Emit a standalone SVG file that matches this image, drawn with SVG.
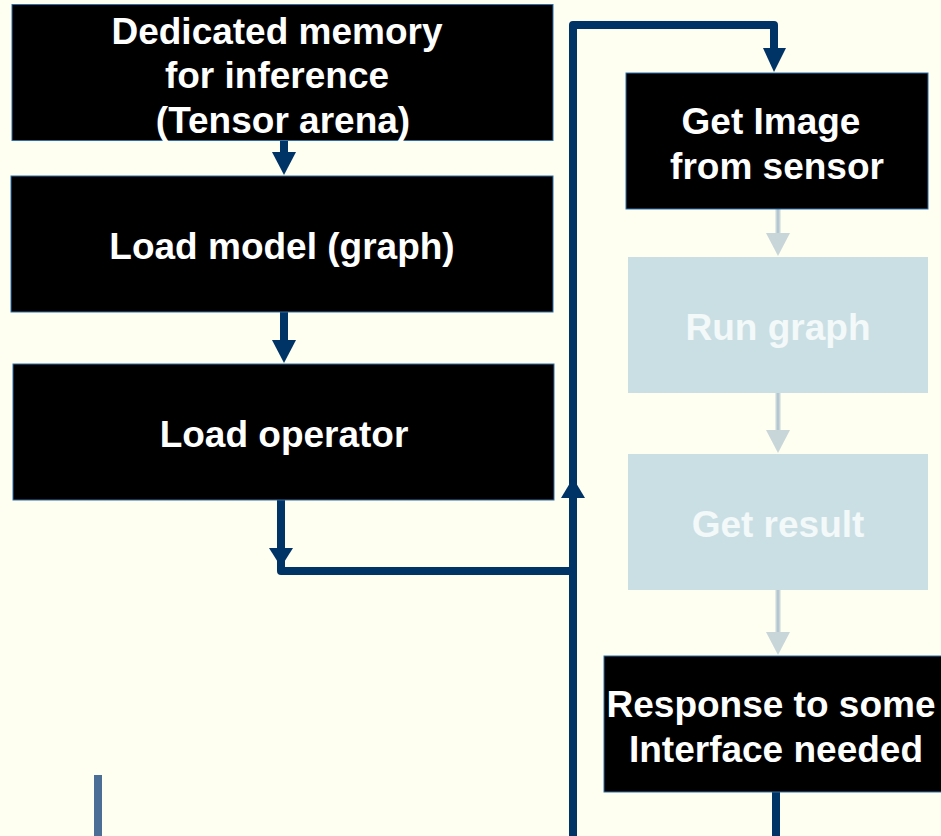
<svg xmlns="http://www.w3.org/2000/svg" width="941" height="836" viewBox="0 0 941 836">
  <defs>
    <style>
      .box { fill: #000000; stroke: #2f6fa8; stroke-width: 1; }
      .dim { fill: #cadfe4; }
      .lbl { font-family: "Liberation Sans", Arial, sans-serif; font-weight: bold; font-size: 37px; fill: #ffffff; text-anchor: middle; }
      .lbl-dim { fill: #f3f8f9; }
      .wire { fill: none; stroke: #003366; stroke-width: 8; stroke-linejoin: round; }
      .wire-dim { fill: none; stroke: #c8d6da; stroke-width: 5; }
      .wire-dim-core { fill: none; stroke: #9fb8cc; stroke-width: 1; }
      .head { fill: #003366; }
      .head-dim { fill: #c8d6da; }
    </style>
  </defs>
  <rect x="0" y="0" width="941" height="836" fill="#fefff0"/>

  <!-- connectors -->
  <g id="connectors">
    <!-- tensor arena -> load model -->
    <line class="wire" x1="284" y1="140" x2="284" y2="156"/>
    <polygon class="head" points="272,152 296,152 284,175"/>
    <!-- load model -> load operator -->
    <line class="wire" x1="284" y1="312" x2="284" y2="344"/>
    <polygon class="head" points="272,340 296,340 284,363"/>
    <!-- load operator -> main loop -->
    <polyline class="wire" points="281,500 281,571 573,571"/>
    <polygon class="head" points="269,548 293,548 281,567"/>
    <!-- loop trunk up and over to get image -->
    <polyline class="wire" points="573,836 573,25 774,25 774,52"/>
    <polygon class="head" points="561,498 585,498 573,478"/>
    <polygon class="head" points="763,48 786,48 774,72"/>
    <!-- pipeline steps (inactive) -->
    <line class="wire-dim" x1="778" y1="209" x2="778" y2="236"/>
    <line class="wire-dim-core" x1="778" y1="209" x2="778" y2="236"/>
    <polygon class="head-dim" points="766,233 790,233 778,256"/>
    <line class="wire-dim" x1="778" y1="393" x2="778" y2="432"/>
    <line class="wire-dim-core" x1="778" y1="393" x2="778" y2="432"/>
    <polygon class="head-dim" points="766,430 790,430 778,453"/>
    <line class="wire-dim" x1="778" y1="590" x2="778" y2="634"/>
    <line class="wire-dim-core" x1="778" y1="590" x2="778" y2="634"/>
    <polygon class="head-dim" points="766,632 790,632 778,655"/>
    <!-- response onward -->
    <line class="wire" x1="776" y1="792" x2="776" y2="836"/>
    <!-- side marker -->
    <rect x="94" y="775" width="8" height="61" fill="#4a6e96"/>
  </g>

  <g id="tensor-arena">
    <rect class="box" x="12" y="4.5" width="541" height="136"/>
    <text class="lbl" x="277" y="44">Dedicated memory</text>
    <text class="lbl" x="277" y="88">for inference</text>
    <text class="lbl" x="283" y="133">(Tensor arena)</text>
  </g>

  <g id="load-model">
    <rect class="box" x="11" y="176" width="542" height="136"/>
    <text class="lbl" x="282" y="259">Load model (graph)</text>
  </g>

  <g id="load-operator">
    <rect class="box" x="13" y="364" width="541" height="136"/>
    <text class="lbl" x="284" y="447">Load operator</text>
  </g>

  <g id="get-image">
    <rect class="box" x="626" y="73" width="302" height="136"/>
    <text class="lbl" x="771" y="134">Get Image</text>
    <text class="lbl" x="777" y="179">from sensor</text>
  </g>

  <g id="run-graph">
    <rect class="dim" x="628" y="257" width="300" height="136"/>
    <text class="lbl lbl-dim" x="778" y="340">Run graph</text>
  </g>

  <g id="get-result">
    <rect class="dim" x="628" y="454" width="300" height="136"/>
    <text class="lbl lbl-dim" x="778" y="537">Get result</text>
  </g>

  <g id="response">
    <rect class="box" x="604" y="656" width="340" height="136"/>
    <text class="lbl" x="771" y="717">Response to some</text>
    <text class="lbl" x="776" y="762">Interface needed</text>
  </g>
</svg>
